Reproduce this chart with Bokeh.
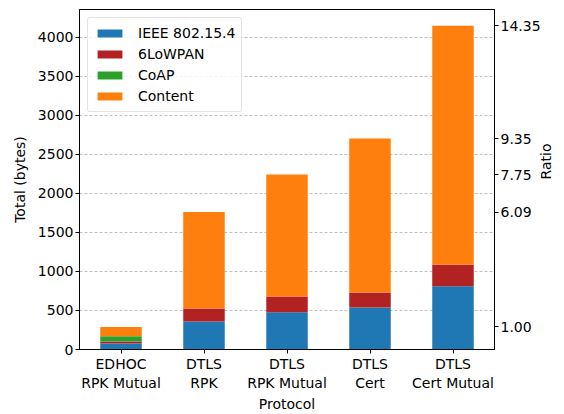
import math
from bokeh.plotting import figure
from bokeh.models import ColumnDataSource, FixedTicker, LinearAxis, Range1d, Legend, LegendItem
from bokeh.embed import file_html
from bokeh.resources import INLINE

protocols = ["EDHOC\nRPK Mutual", "DTLS\nRPK", "DTLS\nRPK Mutual", "DTLS\nCert", "DTLS\nCert Mutual"]
ieee = [77, 358, 477, 538, 810]
sixlowpan = [25, 167, 201, 192, 275]
coap = [68, 0, 0, 0, 0]
content = [119, 1235, 1562, 1972, 3062]
series_names = ["IEEE 802.15.4", "6LoWPAN", "CoAP", "Content"]
colors = ["#1f77b4", "#b22222", "#2ca02c", "#ff7f0e"]

x = list(range(len(protocols)))
totals = [a + b + c + d for a, b, c, d in zip(ieee, sixlowpan, coap, content)]
ratios = ["%.2f" % (t / totals[0]) for t in totals]

FONT = "DejaVu Sans"
ymax = max(totals) * 1.05

p = figure(width=564, height=414, output_backend="svg", toolbar_location=None,
           x_range=Range1d(-0.5, len(protocols) - 0.5), y_range=Range1d(0, ymax),
           min_border_left=79, min_border_right=69, min_border_top=9, min_border_bottom=62)
p.outline_line_color = "black"
p.outline_line_width = 1
p.background_fill_color = "white"
p.border_fill_color = "white"

data = dict(x=x, ieee=ieee, six=sixlowpan, coap=coap, content=content)
src = ColumnDataSource(data)
stack = ["ieee", "six", "coap", "content"]
renderers = p.vbar_stack(stack, x="x", width=0.5, color=colors, source=src, line_color=None)

p.xgrid.grid_line_color = None
p.ygrid.grid_line_color = "#b0b0b0"
p.ygrid.grid_line_dash = "3 2"
p.ygrid.grid_line_width = 0.8
p.ygrid.ticker = FixedTicker(ticks=list(range(0, 4501, 500)))

p.xaxis.ticker = FixedTicker(ticks=x)
p.xaxis.major_label_overrides = {i: s for i, s in enumerate(protocols)}
p.xaxis.axis_label = "Protocol"
p.yaxis.axis_label = "Total (bytes)"
p.yaxis.ticker = FixedTicker(ticks=list(range(0, 4001, 500)))

p.extra_y_ranges = {"ratio": Range1d(0, ymax)}
rax = LinearAxis(y_range_name="ratio", axis_label="Ratio", ticker=FixedTicker(ticks=totals))
rax.major_label_overrides = {t: r for t, r in zip(totals, ratios)}
p.add_layout(rax, "right")
try:
    rax.axis_label_orientation = math.pi / 2
except Exception:
    pass

for ax in [p.xaxis[0], p.yaxis[0], rax]:
    ax.major_label_text_font = FONT
    ax.major_label_text_font_size = "14px"
    ax.major_label_text_color = "black"
    ax.axis_label_text_font = FONT
    ax.axis_label_text_font_size = "14px"
    ax.axis_label_text_font_style = "normal"
    ax.axis_label_text_color = "black"
    ax.minor_tick_line_color = None
    ax.major_tick_in = 0
    ax.major_tick_out = 4
    ax.axis_line_color = "black"
    ax.axis_label_standoff = 2
    ax.major_label_standoff = 2
p.yaxis[0].axis_label_standoff = 7

legend = Legend(items=[LegendItem(label=n, renderers=[r]) for n, r in zip(series_names, renderers)],
                location="top_left")
legend.label_text_font = FONT
legend.label_text_font_size = "14px"
legend.label_text_color = "black"
legend.glyph_width = 31
legend.glyph_height = 10
legend.label_height = 18
legend.spacing = 3
legend.padding = 6
legend.margin = 8
legend.border_line_color = "#cccccc"
legend.border_radius = 3
legend.background_fill_alpha = 0.8
legend.label_standoff = 13
p.add_layout(legend)

open("out.html", "w").write(file_html(p, INLINE))
